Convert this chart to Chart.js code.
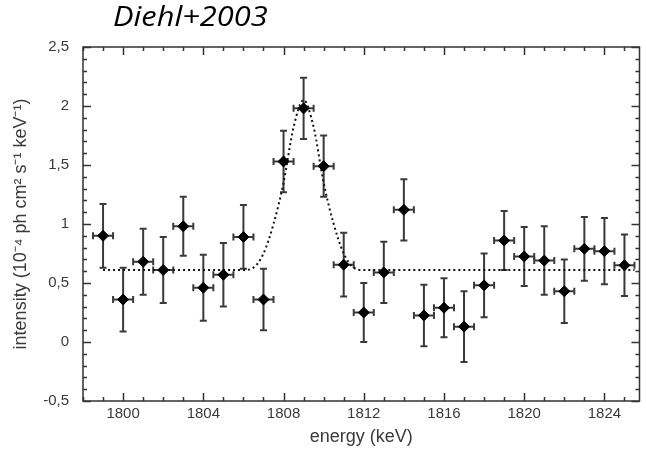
<!DOCTYPE html>
<html>
<head>
<meta charset="utf-8">
<script src="https://cdn.jsdelivr.net/npm/chart.js@4/dist/chart.umd.min.js"></script>
<style>
  html, body { margin: 0; padding: 0; background: #fff; }
  #wrap { width: 646px; height: 454px; position: relative; }
</style>
</head>
<body>
<div id="wrap"><canvas id="c" width="646" height="454"></canvas></div>
<script>
// ---- data ----
const titleText = "Diehl+2003";
const xAxisTitle = "energy (keV)";
const yAxisTitle = "intensity (10\u207B\u2074 ph cm\u00B2 s\u207B\u00B9 keV\u207B\u00B9)";

const energy = [1799,1800,1801,1802,1803,1804,1805,1806,1807,1808,1809,1810,1811,1812,1813,1814,1815,1816,1817,1818,1819,1820,1821,1822,1823,1824,1825];
const intensity = [0.90,0.36,0.68,0.61,0.98,0.46,0.57,0.89,0.36,1.53,1.98,1.49,0.655,0.25,0.59,1.12,0.225,0.29,0.13,0.48,0.86,0.725,0.69,0.43,0.79,0.77,0.65];
const intensityErr = [0.27,0.27,0.28,0.28,0.25,0.28,0.27,0.27,0.26,0.26,0.26,0.26,0.27,0.25,0.26,0.26,0.26,0.25,0.30,0.27,0.25,0.25,0.29,0.27,0.27,0.28,0.26];
const energyErr = [0.5,0.5,0.5,0.5,0.5,0.5,0.5,0.5,0.5,0.5,0.5,0.5,0.5,0.5,0.5,0.5,0.5,0.5,0.5,0.5,0.5,0.5,0.5,0.5,0.5,0.5,0.5];

// fitted line (dotted)
const fitEnergy    = [1799, 1806, 1806.5, 1807, 1807.5, 1808, 1808.5, 1809, 1809.5, 1810, 1810.5, 1811, 1811.5, 1812, 1825.5];
const fitIntensity = [0.61, 0.61, 0.63,   0.75, 1.00,   1.35, 1.82,   2.05, 1.82,   1.35, 1.00,   0.75, 0.63,   0.61, 0.61];

const xTicks = [1800,1804,1808,1812,1816,1820,1824];
const xTickLabels = ["1800","1804","1808","1812","1816","1820","1824"];
const yTicks = [-0.5,0,0.5,1,1.5,2,2.5];
const yTickLabels = ["-0,5","0","0,5","1","1,5","2","2,5"];

// ---- plugins ----
const errorBars = {
  id: 'errorBars',
  beforeDatasetsDraw(chart) {
    const {ctx, scales: {x, y}} = chart;
    ctx.save();
    ctx.strokeStyle = '#3a3a3a';
    ctx.lineWidth = 2;
    const cap = 3.5;
    for (let i = 0; i < energy.length; i++) {
      const px = x.getPixelForValue(energy[i]);
      const py = y.getPixelForValue(intensity[i]);
      const yt = y.getPixelForValue(intensity[i] + intensityErr[i]);
      const yb = y.getPixelForValue(intensity[i] - intensityErr[i]);
      const xl = x.getPixelForValue(energy[i] - energyErr[i]);
      const xr = x.getPixelForValue(energy[i] + energyErr[i]);
      ctx.beginPath();
      ctx.moveTo(px, yt); ctx.lineTo(px, yb);
      ctx.moveTo(px - cap, yt); ctx.lineTo(px + cap, yt);
      ctx.moveTo(px - cap, yb); ctx.lineTo(px + cap, yb);
      ctx.moveTo(xl, py); ctx.lineTo(xr, py);
      ctx.moveTo(xl, py - cap); ctx.lineTo(xl, py + cap);
      ctx.moveTo(xr, py - cap); ctx.lineTo(xr, py + cap);
      ctx.stroke();
    }
    ctx.restore();
  }
};

const axisBox = {
  id: 'axisBox',
  afterDraw(chart) {
    const {ctx, chartArea: {left, right, top, bottom}, scales: {x, y}} = chart;
    ctx.save();
    ctx.strokeStyle = '#333';
    ctx.lineWidth = 1.5;
    ctx.strokeRect(left, top, right - left, bottom - top);
    ctx.beginPath();
    for (let v = Math.ceil(x.min); v <= x.max; v++) {
      const px = Math.round(x.getPixelForValue(v)) + 0.5;
      const len = (v % 4 === 0) ? 8 : 4;
      ctx.moveTo(px, bottom); ctx.lineTo(px, bottom - len);
      ctx.moveTo(px, top); ctx.lineTo(px, top + len);
    }
    for (let k = Math.ceil(y.min * 10); k <= Math.floor(y.max * 10); k++) {
      const py = Math.round(y.getPixelForValue(k / 10)) + 0.5;
      const len = (k % 5 === 0) ? 8 : 4;
      ctx.moveTo(left, py); ctx.lineTo(left + len, py);
      ctx.moveTo(right, py); ctx.lineTo(right - len, py);
    }
    ctx.stroke();
    // title (slightly widened like the scanned original)
    ctx.fillStyle = '#000';
    ctx.font = 'italic 28px "Open Sans", "Liberation Sans", sans-serif';
    ctx.textAlign = 'left';
    ctx.textBaseline = 'middle';
    ctx.translate(113, 18);
    ctx.scale(1.1, 1);
    ctx.fillText(titleText, 0, 0);
    ctx.restore();
  }
};

const tickFont = {family: '"Liberation Sans", Arial, sans-serif', size: 15};
const titleFont = {family: '"Liberation Sans", Arial, sans-serif', size: 18};

new Chart(document.getElementById('c'), {
  type: 'scatter',
  data: {
    datasets: [
      {
        label: 'data',
        data: energy.map((e, i) => ({x: e, y: intensity[i]})),
        pointStyle: 'rectRot',
        pointRadius: 5.5,
        pointBackgroundColor: '#000',
        pointBorderColor: '#000',
        pointBorderWidth: 1,
        showLine: false
      },
      {
        label: 'fit',
        data: fitEnergy.map((e, i) => ({x: e, y: fitIntensity[i]})),
        showLine: true,
        borderColor: '#111',
        borderWidth: 2,
        borderDash: [2, 3],
        pointRadius: 0,
        cubicInterpolationMode: 'monotone',
        fill: false
      }
    ]
  },
  options: {
    responsive: false,
    animation: false,
    layout: {padding: {left: 0, right: 3, top: 47, bottom: 0}},
    plugins: {legend: {display: false}, tooltip: {enabled: false}, title: {display: false}},
    scales: {
      x: {
        type: 'linear',
        min: 1798,
        max: 1825.75,
        afterBuildTicks: s => { s.ticks = xTicks.map(v => ({value: v})); },
        afterFit: s => { s.height = 53; },
        grid: {display: false, drawTicks: false},
        border: {display: false},
        ticks: {font: tickFont, color: '#3a3a3a', padding: 4, maxRotation: 0, autoSkip: false,
          callback: (v) => { const i = xTicks.indexOf(v); return i >= 0 ? xTickLabels[i] : ''; }},
        title: {display: true, text: xAxisTitle, font: titleFont, color: '#3a3a3a', padding: {top: 0, bottom: 6}}
      },
      y: {
        type: 'linear',
        min: -0.5,
        max: 2.5,
        afterBuildTicks: s => { s.ticks = yTicks.map(v => ({value: v})); },
        afterFit: s => { s.width = 83; },
        grid: {display: false, drawTicks: false},
        border: {display: false},
        ticks: {font: tickFont, color: '#3a3a3a', padding: 14,
          callback: (v) => { const i = yTicks.indexOf(v); return i >= 0 ? yTickLabels[i] : ''; }},
        title: {display: true, text: yAxisTitle, font: titleFont, color: '#3a3a3a', padding: {top: 10, bottom: 0}}
      }
    }
  },
  plugins: [errorBars, axisBox]
});
</script>
</body>
</html>
